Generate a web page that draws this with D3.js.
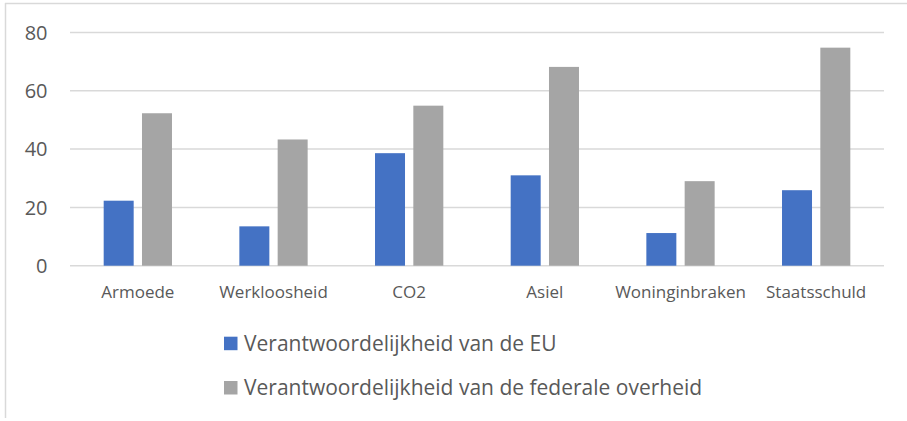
<!DOCTYPE html>
<html>
<head>
<meta charset="utf-8">
<script src="https://cdn.jsdelivr.net/npm/d3@7"></script>
<style>
  html, body { margin: 0; padding: 0; background: #ffffff; }
  svg { display: block; }
  text { font-family: "Open Sans", sans-serif; fill: #595959; }
</style>
</head>
<body>
<svg id="chart" width="907" height="421"></svg>
<script>
const categories = ["Armoede", "Werkloosheid", "CO2", "Asiel", "Woninginbraken", "Staatsschuld"];
const seriesNames = ["Verantwoordelijkheid van de EU", "Verantwoordelijkheid van de federale overheid"];
const euValues = [22.3, 13.5, 38.6, 31.0, 11.2, 25.9];
const federalValues = [52.3, 43.3, 54.9, 68.2, 29.0, 74.8];
const yTicks = [0, 20, 40, 60, 80];
const colors = ["#4472C4", "#A5A5A5"];

const seriesValues = [euValues, federalValues];

const svg = d3.select("#chart");

// chart border (partially visible)
svg.append("line").attr("x1", 5.5).attr("x2", 5.5).attr("y1", 3).attr("y2", 418)
  .attr("stroke", "#d9d9d9").attr("stroke-width", 1.5);
svg.append("line").attr("x1", 5).attr("x2", 907).attr("y1", 3.5).attr("y2", 3.5)
  .attr("stroke", "#d9d9d9").attr("stroke-width", 1.5);

const plotLeft = 70, plotRight = 884;
const x = d3.scaleBand().domain(categories).range([plotLeft, plotRight]).paddingInner(0).paddingOuter(0);
const groupWidth = 68.3;
const xInner = d3.scaleBand().domain(seriesNames).range([-groupWidth / 2, groupWidth / 2])
  .paddingInner(0.217).paddingOuter(0);
const y = d3.scaleLinear().domain([0, 80]).range([265.7, 32.5]);

// gridlines
svg.append("g").selectAll("line").data(yTicks).join("line")
  .attr("x1", plotLeft).attr("x2", plotRight)
  .attr("y1", d => y(d)).attr("y2", d => y(d))
  .attr("stroke", "#d9d9d9").attr("stroke-width", 1.5);

// y axis labels
svg.append("g").selectAll("text").data(yTicks).join("text")
  .attr("x", 47.5).attr("y", d => y(d) + 7.3)
  .attr("text-anchor", "end")
  .style("font-size", "20px")
  .text(d => d);

// bars
seriesNames.forEach((s, si) => {
  svg.append("g").selectAll("rect").data(categories).join("rect")
    .attr("x", (c) => x(c) + x.bandwidth() / 2 + xInner(s))
    .attr("width", xInner.bandwidth())
    .attr("y", (c, i) => y(seriesValues[si][i]))
    .attr("height", (c, i) => y(0) - y(seriesValues[si][i]))
    .attr("fill", colors[si]);
});

// category labels
svg.append("g").selectAll("text").data(categories).join("text")
  .attr("x", d => x(d) + x.bandwidth() / 2)
  .attr("y", 298.3)
  .attr("text-anchor", "middle")
  .style("font-size", "17px")
  .text(d => d);

// legend
const legendY = [336.7, 381];
const legend = svg.append("g");
seriesNames.forEach((s, i) => {
  legend.append("rect").attr("x", 224).attr("y", legendY[i])
    .attr("width", 13.5).attr("height", 13.5).attr("fill", colors[i]);
  legend.append("text").attr("x", 244).attr("y", legendY[i] + 14)
    .style("font-size", "21px")
    .text(s);
});
</script>
</body>
</html>
